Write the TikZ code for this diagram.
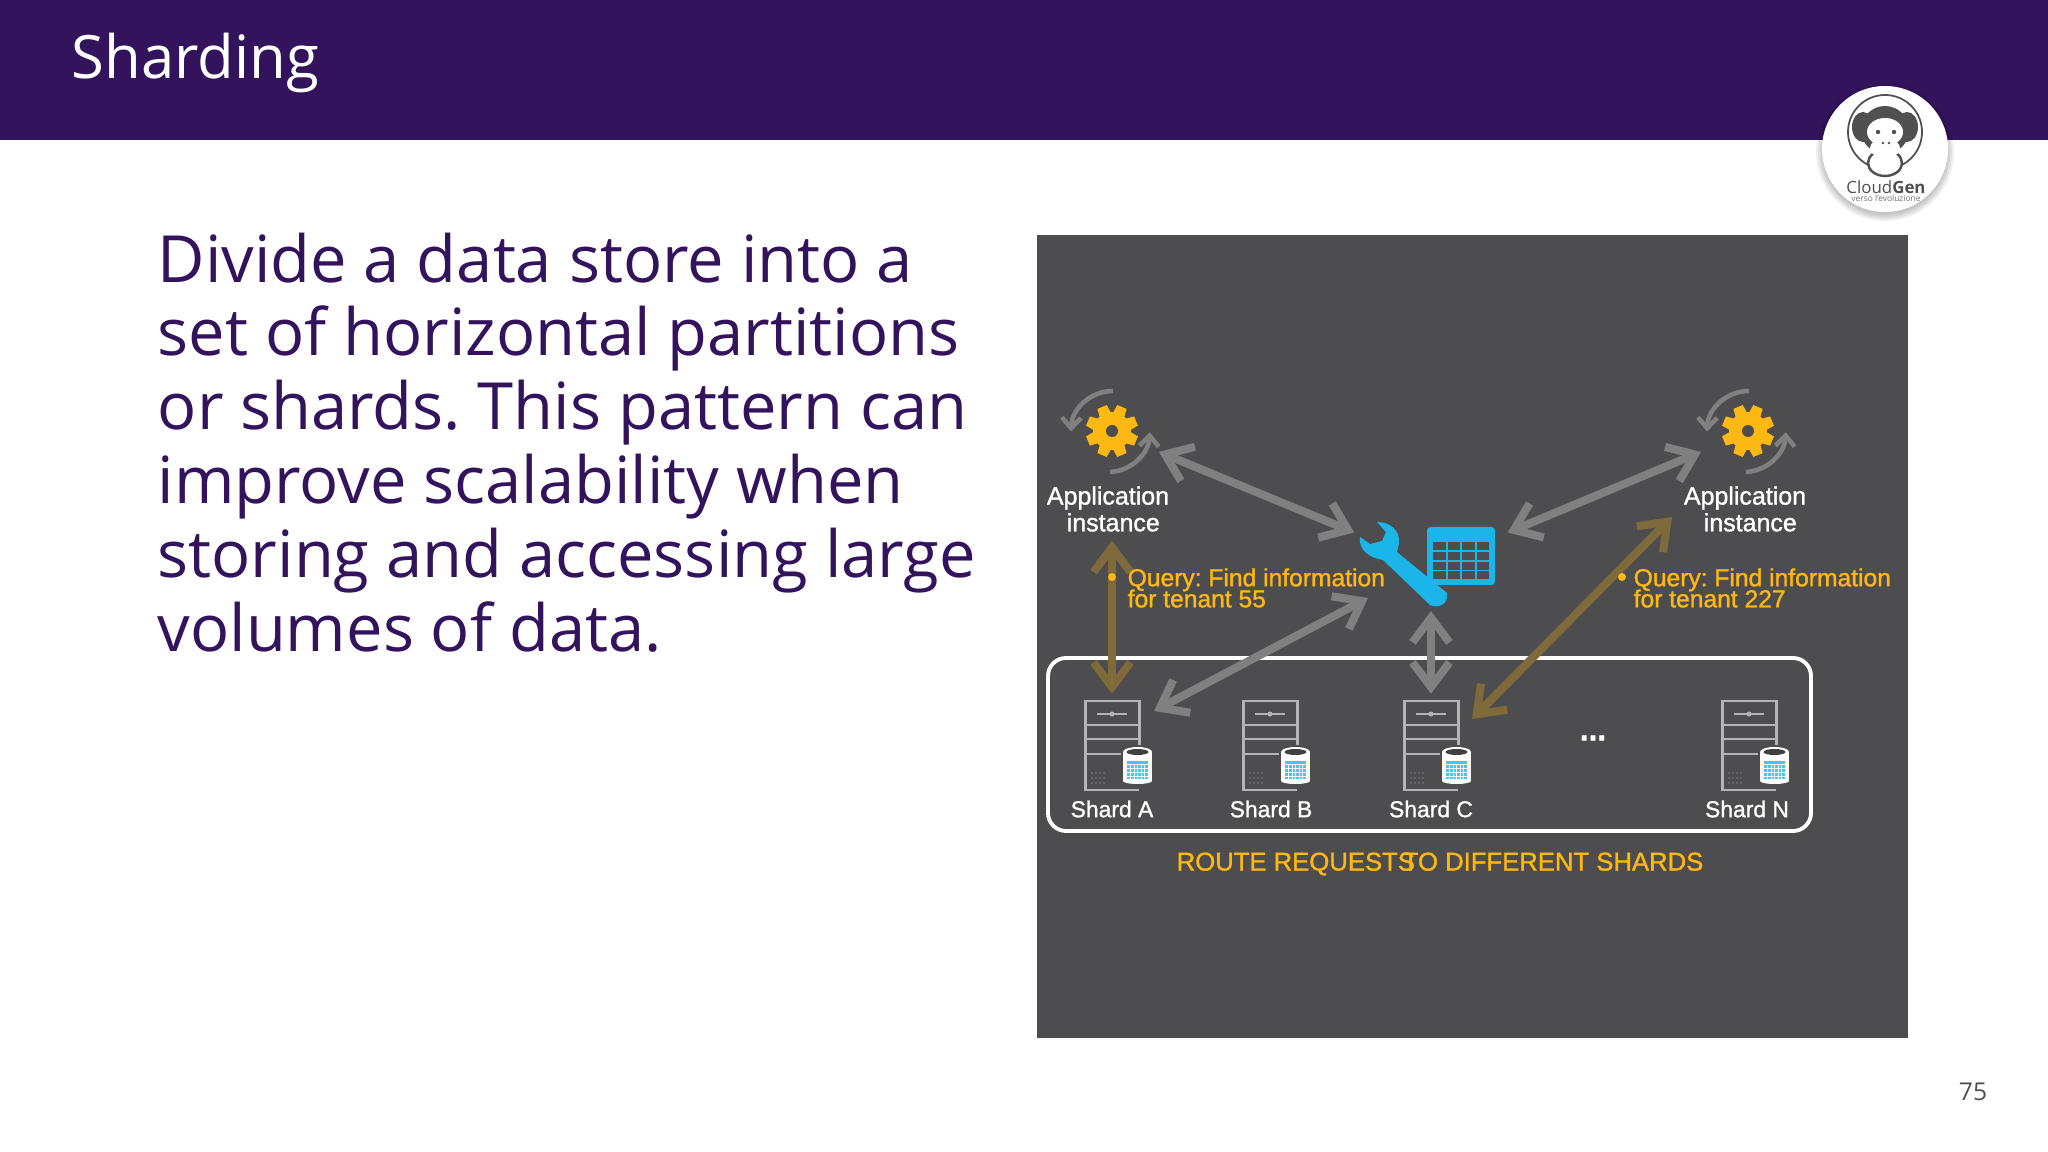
\documentclass[tikz,border=0pt]{standalone}
\usepackage{fontspec}
\setmainfont{Open Sans}
\newfontfamily\arialfont[FakeBold=1.2]{Liberation Sans}
\usepackage{tikz}
\usetikzlibrary{arrows.meta}
\usetikzlibrary{shapes.geometric}
\AtBeginDocument{\frenchspacing}
\definecolor{headerviolet}{HTML}{33145C}
\definecolor{panelgrey}{HTML}{4D4C4E}
\definecolor{arrowgrey}{HTML}{808080}
\definecolor{arrowbrown}{HTML}{7F6A3C}
\definecolor{queryyellow}{HTML}{FDB813}
\definecolor{hubblue}{HTML}{1BB5EA}
\definecolor{servergrey}{HTML}{B4B4B4}
\definecolor{logogrey}{HTML}{505050}
\tikzset{
	link/.style={line width=2.3pt,{Straight Barb[length=7pt,width=10.5pt,line width=2.3pt]}-{Straight Barb[length=7pt,width=10.5pt,line width=2.3pt]}},
	greylink/.style={link,arrowgrey},
	brownlink/.style={link,arrowbrown},
	spin/.style={line width=1.3pt,arrowgrey,-{Straight Barb[length=3pt,width=5.5pt,line width=1.3pt]}},
	whitelabel/.style={font=\arialfont\fontsize{7.1}{7.6}\selectfont,text=white,inner sep=0pt,align=center},
	shardlabel/.style={font=\arialfont\fontsize{6.5}{7}\selectfont,text=white,inner sep=0pt},
	querylabel/.style={font=\arialfont\fontsize{7}{7}\selectfont,text=queryyellow,inner sep=0pt,align=left,anchor=west},
	serverline/.style={servergrey,line width=0.85pt},
}
% gear with its two turning arrows; #1 name, #2 centre
\newcommand{\appgear}[2]{
	\node[circle,minimum size=1.012cm,inner sep=0pt] (#1) at (#2) {};
	\begin{scope}[shift={(#2)}]
		\fill[queryyellow] (0,0) circle (19);
		\foreach \a in {0,45,...,315}
			\fill[queryyellow,rotate=\a+22.5] (-6.5,-14) -- (-5,-26) -- (5,-26) -- (6.5,-14) -- cycle;
		\fill[panelgrey] (0,0) circle (6);
		\draw[spin] (1,-40) arc[start angle=90,end angle=178,x radius=42,y radius=-42];
		\draw[spin] (-2,41) arc[start angle=-87,end angle=-3,x radius=42,y radius=-42];
	\end{scope}
}
% server with a small database; #1 name, #2 x
\newcommand{\shardserver}[2]{
	\begin{scope}[shift={(#2,745)}]
		\node[minimum width=0.55cm,minimum height=0.89cm,inner sep=0pt] (#1) at (0,0) {};
		\draw[serverline] (27,0) -- (27,-44) -- (-27,-44) -- (-27,45) -- (27,45);
		\foreach \y in {-20,-6}
			\draw[serverline] (-27,\y) -- (27,\y);
		\draw[serverline] (-27,9) -- (9,9);
		\draw[servergrey,line width=0.6pt] (-15,-31) -- (15,-31);
		\fill[servergrey] (0,-31) circle (2.5);
		\foreach \x in {-20,-16,-12,-8}
			\foreach \y in {28,33,38}
				\fill[servergrey] (\x,\y) circle (0.6);
		\fill[white] (11,7) rectangle (40,36);
		\fill[white] (25.5,7) ellipse (14.5 and 5);
		\fill[white] (25.5,36) ellipse (14.5 and 3);
		\fill[black!75] (25.5,7) ellipse (11 and 3);
		\fill[hubblue!80!white] (15,16) rectangle (36,34);
		\foreach \x in {18.5,22,25.5,29,32.5}
			\draw[white,line width=0.25pt] (\x,19) -- (\x,34);
		\foreach \y in {19,23,27,31}
			\draw[white,line width=0.25pt] (15,\y) -- (36,\y);
	\end{scope}
}
\begin{document}
\begin{tikzpicture}[x=0.01cm,y=-0.01cm]
	\useasboundingbox (0,0) rectangle (2048,1152);
	\fill[white] (0,0) rectangle (2048,1152);
	\fill[headerviolet] (0,0) rectangle (2048,140);
	\node[anchor=west,inner sep=0pt,text=white,font=\fontsize{17}{20}\selectfont] (title) at (71,63) {Sharding};

	% logo
	\foreach \r in {69,67,65,63}
		\fill[black,opacity=0.06] (1885,152) circle (\r);
	\fill[white] (1885,149) circle (63);
	\node[circle,draw=logogrey,line width=0.5pt,minimum size=0.74cm,inner sep=0pt] (logoring) at (1885,132) {};
	\fill[logogrey] (1863,127) ellipse (11 and 15);
	\fill[logogrey] (1907,127) ellipse (11 and 15);
	\fill[logogrey] (1885,130) ellipse (24 and 24);
	\fill[white] (1885,132) ellipse (18 and 14);
	\fill[white] (1885,148) ellipse (15 and 10);
	\draw[fill=white,draw=logogrey,line width=0.7pt] (1885,163) ellipse (17 and 13);
	\fill[white] (1885,150) ellipse (15 and 7);
	\fill[logogrey] (1878,132) circle (2.2);
	\fill[logogrey] (1894,132) circle (2.2);
	\fill[logogrey] (1883,143) circle (1.3);
	\fill[logogrey] (1889,143) circle (1.3);
	\node[inner sep=0pt,font=\fontsize{4.8}{5}\selectfont,text=logogrey] (logoname) at (1886,187) {Cloud\textbf{Gen}};
	\node[inner sep=0pt,font=\fontsize{2.4}{3}\selectfont,text=logogrey!80] (logosub) at (1886,198) {verso l'evoluzione};

	% text
	\node[anchor=north west,inner sep=0pt,align=left,text=headerviolet,font=\fontsize{18.5}{21}\selectfont] (body) at (157,232) {Divide a data store into a\\set of horizontal partitions\\or shards. This pattern can\\improve scalability when\\storing and accessing large\\volumes of data.};
	\node[inner sep=0pt,text=logogrey,font=\fontsize{7}{8}\selectfont] (pageno) at (1973,1092) {75};

	% diagram
	\node[fill=panelgrey,minimum width=8.7cm,minimum height=8.03cm,inner sep=0pt,outer sep=0pt,anchor=north west] (panel) at (1037,235) {};
	\draw[white,line width=1.1pt,rounded corners=0.18cm] (1048,658) rectangle (1811,831);

	\appgear{gearL}{1112,431}
	\appgear{gearR}{1748,431}
	\node[whitelabel] (appL) at (1108,509) {Application\\ \hspace{3pt}instance};
	\node[whitelabel] (appR) at (1745,509) {Application\\ \hspace{3pt}instance};

	% hub
	\node[minimum width=1.52cm,minimum height=0.97cm,inner sep=0pt] (hub) at (1431,563.5) {};
	\coordinate (hubSW) at (1368,598);
	\fill[hubblue,rounded corners=1] (1427,527) rectangle (1495,585);
	\foreach \x in {1432,1446.5,1461,1475.5}
		\foreach \y in {542,552,562,571}
			\fill[panelgrey] (\x+1,\y) rectangle ++(12.5,8);
	\fill[hubblue] (1377,522) .. controls (1390,522) and (1400,530) .. (1399,543) -- (1397,552) -- (1447,593)
		.. controls (1449,604) and (1438,609) .. (1430,605) -- (1383,560) .. controls (1370,558) and (1358,550) .. (1360,537)
		-- (1370,544) -- (1382,541) -- (1386,532) -- cycle;

	\shardserver{shardA}{1112}
	\shardserver{shardB}{1270}
	\shardserver{shardC}{1431}
	\shardserver{shardN}{1749}
	\foreach \n/\x/\t in {A/1112/Shard A,B/1271/Shard B,C/1431/Shard C,N/1747/Shard N}
		\node[shardlabel] (label\n) at (\x,809) {\t};
	\node[shardlabel,font=\arialfont\bfseries\fontsize{9}{9}\selectfont] (dots) at (1593,738) {...};
	\coordinate (shardAr) at (1154,711);
	\coordinate (shardCr) at (1472,719);
	\coordinate (appRq) at (1672,517);

	% connectors
	\draw[greylink] (gearL.-24.5) -- (hub.158.1);
	\draw[greylink] (gearR.-156) -- (hub.22.5);
	\draw[greylink] (hubSW) -- (shardAr);
	\draw[greylink,shorten <=-0.5pt,shorten >=1.7pt] (hub.south) -- (shardA.north -| hub.south);
	\draw[brownlink,shorten <=2.4pt,shorten >=1.7pt] (shardA.north |- appL.south) -- (shardA.north);
	\draw[brownlink] (appRq) -- (shardCr);

	% query labels
	\fill[queryyellow] (1112,577) circle (4);
	\fill[queryyellow] (1622,577) circle (4);
	\node[querylabel] (queryL) at (1127,588) {Query: Find information\\[-1pt]for tenant 55};
	\node[querylabel] (queryR) at (1633,588) {Query: Find information\\[-1pt]for tenant 227};
	\node[inner sep=0pt,text=queryyellow,font=\arialfont\fontsize{7.3}{8}\selectfont] (route) at (1440,864) {ROUTE REQUESTS \kern-0.75em TO DIFFERENT SHARDS};
\end{tikzpicture}
\end{document}
